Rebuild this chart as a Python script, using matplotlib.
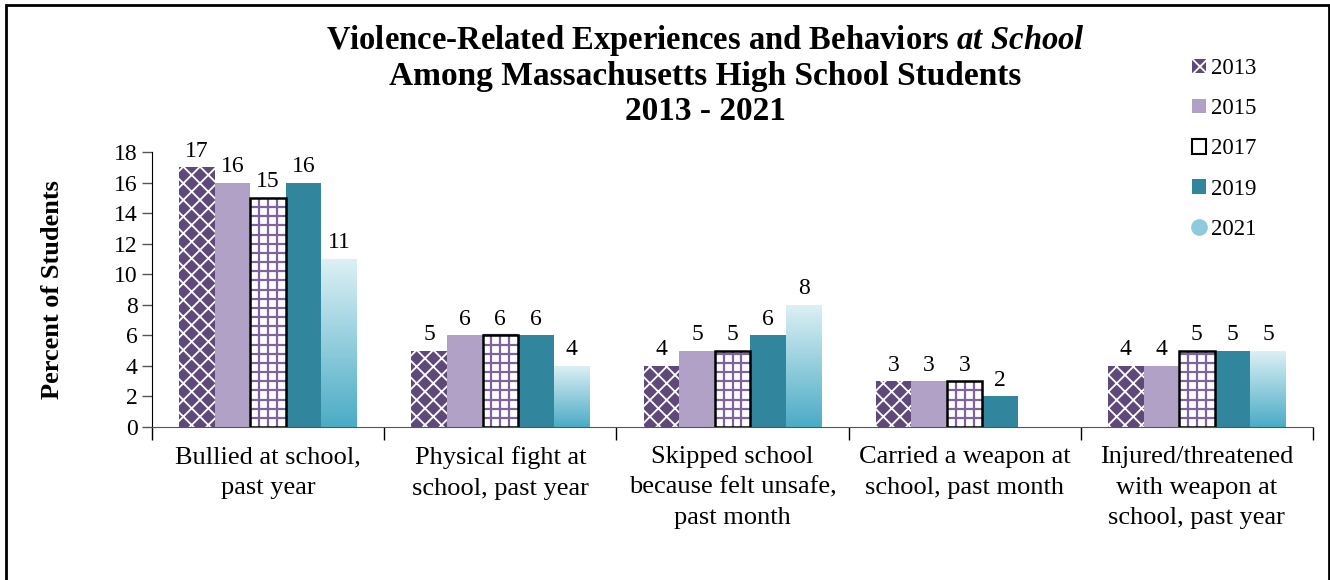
import numpy as np
import matplotlib
matplotlib.use("Agg")
from matplotlib import pyplot as plt
from matplotlib.patches import Patch, Rectangle
from matplotlib.lines import Line2D
from matplotlib.colors import LinearSegmentedColormap

plt.rcParams['font.family'] = ['Liberation Serif', 'DejaVu Serif']
plt.rcParams['hatch.linewidth'] = 1.3
plt.rcParams['mathtext.fontset'] = 'custom'
plt.rcParams['mathtext.it'] = 'Liberation Serif:italic:bold'
plt.rcParams['mathtext.rm'] = 'Liberation Serif:bold'

# Donnees
categories = ["Bullied at school,\npast year",
              "Physical fight at\nschool, past year",
              "Skipped school\nbecause felt unsafe,\npast month",
              "Carried a weapon at\nschool, past month",
              "Injured/threatened\nwith weapon at\nschool, past year"]
years = ["2013", "2015", "2017", "2019", "2021"]
v2013 = [17, 5, 4, 3, 4]
v2015 = [16, 6, 5, 3, 4]
v2017 = [15, 6, 5, 3, 5]
v2019 = [16, 6, 6, 2, 5]
v2021 = [11, 4, 8, np.nan, 5]
series = [v2013, v2015, v2017, v2019, v2021]

purple = '#5F497A'
lilac = '#B2A1C7'
grid_purple = '#7F63A1'
teal = '#31859C'
grad = LinearSegmentedColormap.from_list('g', ['#4BACC6', '#DDF0F5'])

fig = plt.figure(figsize=(13.3, 5.8), dpi=100)
ax = fig.add_axes([152/1330, 1-427/580, (1313-152)/1330, (427-152)/580])

x = np.arange(len(categories))
w = 0.153
offs = (np.arange(5) - 2) * w

# 2013 : losanges blancs sur violet fonce
ax.bar(x + offs[0], v2013, w, facecolor=purple, edgecolor='white', hatch='xx', linewidth=0)
# 2015
ax.bar(x + offs[1], v2015, w, color=lilac, linewidth=0)
# 2017 : quadrillage violet, contour noir
bars17 = ax.bar(x + offs[2], v2017, w, facecolor='white', linewidth=0)
for b, v in zip(bars17, v2017):
    x0 = b.get_x()
    ax.vlines(x0 + w * np.arange(1, 4) / 4, 0, v, color=grid_purple, lw=1.6, zorder=2)
    ax.hlines(np.arange(0.6, v, 0.6), x0, x0 + w, color=grid_purple, lw=1.6, zorder=2)
ax.bar(x + offs[2], v2017, w, fill=False, edgecolor='black', linewidth=1.8, zorder=3)
# 2019
ax.bar(x + offs[3], v2019, w, color=teal, linewidth=0)
# 2021 : degrade
bars21 = ax.bar(x + offs[4], np.nan_to_num(v2021), w, facecolor='none', linewidth=0)
gimg = np.linspace(0, 1, 100).reshape(-1, 1)
for b, v in zip(bars21, v2021):
    if np.isnan(v):
        continue
    x0 = b.get_x()
    im = ax.imshow(gimg, cmap=grad, aspect='auto', origin='lower',
                   extent=[x0, x0 + w, 0, v], zorder=2)
    im.set_clip_path(b)

# etiquettes
for s, xo in zip(series, offs):
    for xi, v in zip(x, s):
        if np.isnan(v):
            continue
        ax.annotate(f"{v:g}", (xi + xo, v), xytext=(0, 4), textcoords='offset points',
                    ha='center', va='bottom', fontsize=17)

ax.set_xlim(-0.5, 4.5)
ax.set_ylim(0, 18)
ax.set_yticks(range(0, 19, 2))
ax.tick_params(axis='y', labelsize=17, length=7, width=1, color='#555555')
ax.set_xticks(x)
ax.set_xticklabels(categories, fontsize=19, va='top', linespacing=1.5)
ax.tick_params(axis='x', length=0, pad=14)
ax.set_xticks(np.arange(-0.5, 5, 1), minor=True)
ax.tick_params(axis='x', which='minor', length=9, width=1)
for sp in ['top', 'right']:
    ax.spines[sp].set_visible(False)
ax.spines['bottom'].set_color('#555555')
ax.set_ylabel("Percent of Students", fontsize=19, fontweight='bold', labelpad=36)

# titre
fig.text(705/1330, 1-40/580, "Violence-Related Experiences and Behaviors $at\\ School$",
         ha='center', va='center', fontsize=23.5, fontweight='bold')
fig.text(705/1330, 1-76/580, "Among Massachusetts High School Students",
         ha='center', va='center', fontsize=24, fontweight='bold')
fig.text(705/1330, 1-111/580, "2013 - 2021",
         ha='center', va='center', fontsize=24, fontweight='bold')

# legende
handles = [Patch(facecolor=purple, edgecolor='white', hatch='xx', linewidth=0),
           Patch(facecolor=lilac),
           Patch(facecolor='white', edgecolor='black', linewidth=1.5),
           Patch(facecolor=teal),
           Line2D([], [], marker='o', linestyle='', markersize=11, markerfacecolor='#8DCBDC',
                  markeredgecolor='#8DCBDC')]
fig.legend(handles, years, loc='upper left', bbox_to_anchor=(1192/1330, 1-58/580),
           frameon=False, fontsize=16.5, handlelength=0.6, handleheight=0.6,
           handletextpad=0.25, labelspacing=0.84, borderaxespad=0, borderpad=0)

# cadre
fig.patches.append(Rectangle((6/1330, -0.05), (1323)/1330, 1.05-5/580, transform=fig.transFigure,
                             fill=False, edgecolor='black', linewidth=2))

fig.savefig("out.png", dpi=100)
